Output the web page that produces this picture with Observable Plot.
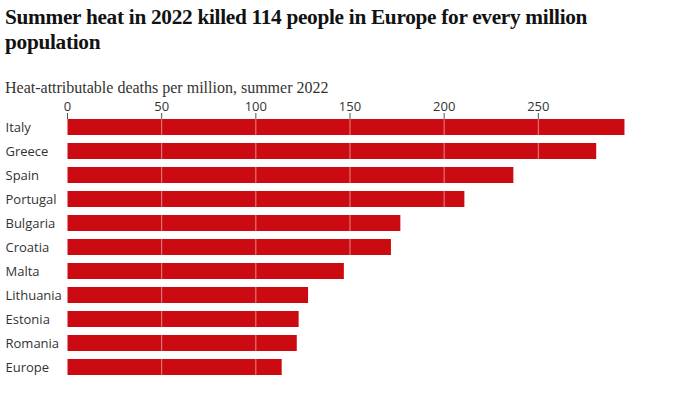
<!DOCTYPE html>
<html><head><meta charset="utf-8">
<script src="https://cdn.jsdelivr.net/npm/d3@7"></script>
<script src="https://cdn.jsdelivr.net/npm/@observablehq/plot@0.6"></script>
<style>
body{margin:0;background:#fff;}
#wrap{width:681px;}
.title{font-family:"Liberation Serif",serif;font-weight:bold;font-size:21.3px;line-height:25px;color:#121212;padding:5px 0 0 5px;width:620px;letter-spacing:-0.3px;}
.sub{font-family:"Liberation Serif",serif;font-size:16px;color:#333;padding:23px 0 0 5px;line-height:20px;}
#chart{margin-top:-5px;}
#chart svg{display:block;}
</style></head><body>
<div id="wrap">
<div class="title">Summer heat in 2022 killed 114 people in Europe for every million population</div>
<div class="sub">Heat-attributable deaths per million, summer 2022</div>
<div id="chart"></div>
</div>
<script>
const countries = ["Italy","Greece","Spain","Portugal","Bulgaria","Croatia","Malta","Lithuania","Estonia","Romania","Europe"];
const deaths = [296,281,237,211,177,172,147,128,123,122,114];
const ticks = [0,50,100,150,200,250];
const data = countries.map((c,i)=>({country:c, value:deaths[i]}));
const chart = Plot.plot({
  width:681, height:294,
  marginLeft:67, marginRight:49, marginTop:25, marginBottom:10,
  style:{fontFamily:"'Open Sans', sans-serif", fontSize:"13px", color:"#333", background:"transparent"},
  x:{domain:[0,300]},
  y:{domain:countries, paddingInner:0.33, paddingOuter:0.04},
  marks:[
    Plot.barX(data,{x:"value", y:"country", fill:"#cc0a11"}),
    Plot.gridX(ticks,{stroke:"#fff", strokeOpacity:0.5}),
    Plot.axisX({anchor:"top", ticks:ticks, tickSize:6, tickPadding:2, stroke:"#555", label:null, fontSize:13}),
    Plot.axisY({tickSize:0, tickPadding:0, textAnchor:"start", dx:5-67, label:null, fontSize:13})
  ]
});
document.getElementById("chart").appendChild(chart);
</script>
</body></html>
